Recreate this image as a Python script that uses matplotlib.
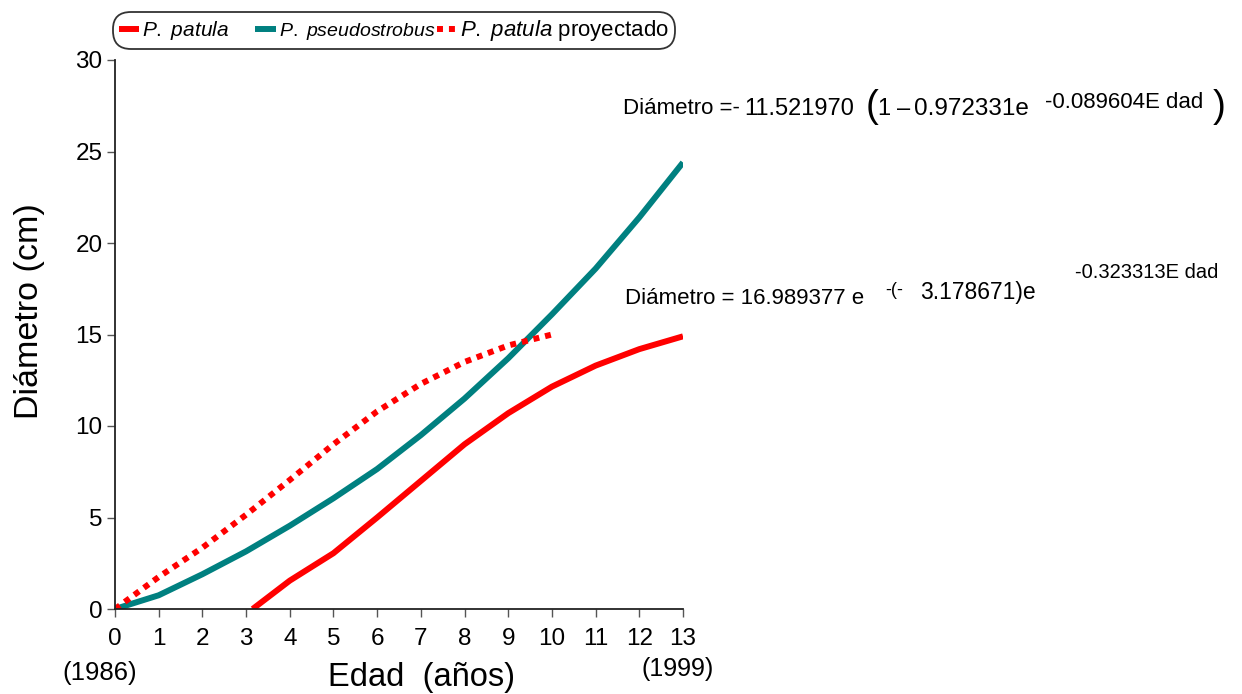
import matplotlib
matplotlib.use('Agg')
import matplotlib.pyplot as plt
from matplotlib.lines import Line2D

plt.rcParams['font.family'] = ['Liberation Sans', 'DejaVu Sans']
plt.rcParams['mathtext.fontset'] = 'custom'
plt.rcParams['mathtext.rm'] = 'Liberation Sans'
plt.rcParams['mathtext.it'] = 'Liberation Sans:italic'

# valores
edad_patula = [3.15, 4, 5, 6, 7, 8, 9, 10, 11, 12, 13]
diam_patula = [0.0, 1.55, 3.05, 5.0, 7.0, 9.0, 10.7, 12.15, 13.3, 14.2, 14.9]

edad_pseudo = [0, 1, 2, 3, 4, 5, 6, 7, 8, 9, 10, 11, 12, 13]
diam_pseudo = [0.0, 0.75, 1.9, 3.15, 4.55, 6.05, 7.65, 9.5, 11.5, 13.7, 16.1, 18.6, 21.4, 24.4]

edad_proy = [0, 1, 2, 3, 4, 5, 6, 7, 8, 9, 10]
diam_proy = [0.0, 1.75, 3.35, 5.15, 7.05, 9.0, 10.8, 12.3, 13.5, 14.4, 15.0]

xticks = list(range(0, 14))
yticks = [0, 5, 10, 15, 20, 25, 30]

ROJO = '#FF0000'
VERDE = '#008080'
W, H = 1242, 694


def fx(px):
    return px / W


def fy(py):
    return 1 - py / H


fig = plt.figure(figsize=(12.42, 6.94), dpi=100)
ax = fig.add_axes([fx(115), fy(609), fx(683) - fx(115), fy(60) - fy(609)])

ax.plot(edad_patula, diam_patula, color=ROJO, lw=4.3, solid_capstyle='butt')
ax.plot(edad_pseudo, diam_pseudo, color=VERDE, lw=4.3, solid_capstyle='butt')
ax.plot(edad_proy, diam_proy, color=ROJO, lw=4.3, linestyle=(0, (1, 1)),
        dash_capstyle='butt')

ax.set_xlim(0, 13)
ax.set_ylim(0, 30)
ax.set_xticks(xticks)
ax.set_yticks(yticks)
ax.spines['top'].set_visible(False)
ax.spines['right'].set_visible(False)
for s in ('left', 'bottom'):
    ax.spines[s].set_linewidth(1.3)
    ax.spines[s].set_color('#222222')
ax.tick_params(direction='out', length=6, width=1.0, color='#555555',
               labelsize=17.5)
ax.tick_params(axis='x', pad=8)
ax.tick_params(axis='y', pad=3)

ax.set_xlabel('Edad  (años)', fontsize=23.5)
ax.xaxis.set_label_coords(0.54, -0.097)
ax.set_ylabel('Diámetro (cm)', fontsize=24.5)
ax.yaxis.set_label_coords(-0.124, 0.543)

fig.text(fx(100), fy(673), '(1986)', fontsize=18.5, ha='center', va='center')
fig.text(fx(678), fy(669), '(1999)', fontsize=18, ha='center', va='center')

# leyenda
handles = [
    Line2D([], [], color=ROJO, lw=4.3, solid_capstyle='butt'),
    Line2D([], [], color=VERDE, lw=4.3, solid_capstyle='butt'),
    Line2D([], [], color=ROJO, lw=4.3, linestyle=(0, (1, 1)), dash_capstyle='butt'),
]
labels = [r'$\mathit{P.\ patula}$' + '     ', r'$\mathit{P.\ pseudostrobus}$',
          r'$\mathit{P.\ patula}$ proyectado']
leg = fig.legend(handles, labels, loc='upper left', prop={'size': 14},
                 bbox_to_anchor=(fx(113), fy(12)), ncol=3, frameon=True,
                 fancybox=True, edgecolor='black', handlelength=1.05,
                 handletextpad=0.15, columnspacing=0.1, borderpad=0.3,
                 borderaxespad=0)
leg.get_frame().set_linewidth(1.3)
leg.get_frame().set_boxstyle('round,pad=0.0,rounding_size=0.9')
fs = [15, 14, 16]
for t, s in zip(leg.get_texts(), fs):
    t.set_fontsize(s)

# ecuaciones
fig.text(fx(623), fy(109), 'Diámetro =-', fontsize=16, va='center')
fig.text(fx(744), fy(109), '11.521970', fontsize=17, va='center')
fig.text(fx(866), fy(107), '(', fontsize=28, va='center')
fig.text(fx(877), fy(109), '1', fontsize=17, va='center')
fig.text(fx(897), fy(109), '–', fontsize=17, va='center')
fig.text(fx(914), fy(109), '0.972331e', fontsize=17.5, va='center')
fig.text(fx(1045), fy(102), '-0.089604E dad', fontsize=16, va='center')
fig.text(fx(1213), fy(107), ')', fontsize=28, va='center')

fig.text(fx(625), fy(299), 'Diámetro = 16.989377 e', fontsize=16, va='center')
fig.text(fx(885), fy(291), '-(-', fontsize=13, va='center')
fig.text(fx(920), fy(292), '3.178671)e', fontsize=16.5, va='center')
fig.text(fx(1075), fy(273), '-0.323313E dad', fontsize=14.5, va='center')

fig.savefig('out.png', dpi=100)
